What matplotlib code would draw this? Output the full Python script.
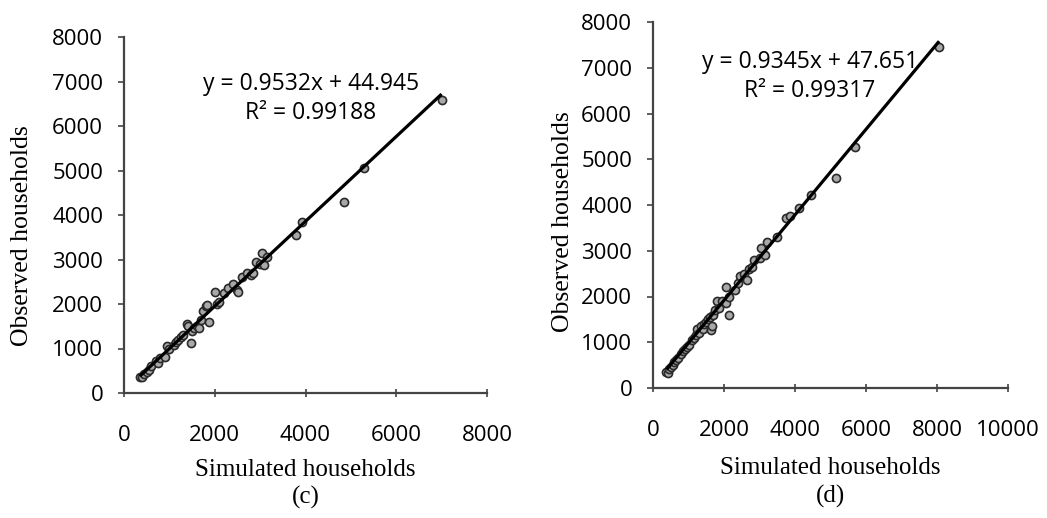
import matplotlib
matplotlib.use("Agg")
import matplotlib.pyplot as plt
import numpy as np

# ---------------- data ----------------
sim_c = [350, 390, 450, 500, 550, 600, 700, 750, 800, 900, 950, 1000,
         1100, 1150, 1200, 1250, 1300, 1380, 1400, 1470, 1500, 1550,
         1600, 1650, 1700, 1750, 1800, 1840, 1880, 2000, 2050, 2100,
         2200, 2300, 2400, 2480, 2520, 2600, 2700, 2800, 2850, 2900,
         3000, 3050, 3080, 3150, 3800, 3930, 4840, 5290, 7000]
obs_c = [360, 366, 420, 470, 520, 600, 720, 680, 780, 800, 1050, 980,
         1080, 1150, 1200, 1250, 1300, 1555, 1500, 1130, 1400, 1450,
         1500, 1450, 1650, 1850, 1950, 1980, 1600, 2260, 2000, 2050,
         2250, 2350, 2450, 2310, 2280, 2600, 2700, 2650, 2700, 2950,
         2900, 3150, 2870, 3050, 3550, 3850, 4300, 5050, 6580]

sim_d = [380, 430, 450, 500, 550, 600, 650, 700, 800, 850, 900, 950,
         1000, 1100, 1150, 1200, 1250, 1300, 1350, 1400, 1450, 1500,
         1550, 1600, 1625, 1650, 1700, 1750, 1800, 1850, 1950, 2050,
         2050, 2150, 2150, 2300, 2400, 2450, 2550, 2650, 2700, 2800,
         2850, 3000, 3050, 3150, 3200, 3500, 3750, 3850, 4100, 4450,
         5150, 5680, 8060]
obs_d = [350, 335, 420, 460, 500, 560, 620, 650, 750, 800, 850, 900,
         950, 1050, 1100, 1150, 1300, 1200, 1350, 1300, 1400, 1450,
         1500, 1550, 1270, 1350, 1600, 1700, 1900, 1750, 1900, 2215,
         1850, 1596, 2000, 2150, 2300, 2450, 2500, 2350, 2600, 2650,
         2800, 2850, 3050, 2900, 3200, 3300, 3710, 3750, 3930, 4220,
         4590, 5270, 7460]

fit_c = (0.9532, 44.945, 0.99188)
fit_d = (0.9345, 47.651, 0.99317)

xticks_c = [0, 2000, 4000, 6000, 8000]
xticks_d = [0, 2000, 4000, 6000, 8000, 10000]
yticks = [0, 1000, 2000, 3000, 4000, 5000, 6000, 7000, 8000]

xlabel = "Simulated households"
ylabel = "Observed households"

# ---------------- figure ----------------
W, H = 1047, 518
fig = plt.figure(figsize=(W / 100, H / 100), dpi=100)
fig.patch.set_facecolor("white")

tick_font = "Open Sans"
serif_font = "Liberation Serif"

def px_box(x0, y0, x1, y1):
    return [x0 / W, 1 - y1 / H, (x1 - x0) / W, (y1 - y0) / H]

panels = [
    dict(box=px_box(124, 37, 487, 393), sim=sim_c, obs=obs_c, fit=fit_c,
         xt=xticks_c, xlim=(0, 8000), tag="(c)",
         eq_xy=(311, 84), r2_xy=(311, 113),
         ylab_x=22, ylab_y=236, xlab_y=470, tag_y=497),
    dict(box=px_box(653, 22, 1008, 388), sim=sim_d, obs=obs_d, fit=fit_d,
         xt=xticks_d, xlim=(0, 10000), tag="(d)",
         eq_xy=(810, 62), r2_xy=(810, 91),
         ylab_x=563, ylab_y=222, xlab_y=468, tag_y=496),
]

for p in panels:
    ax = fig.add_axes(p["box"])
    ax.set_xlim(*p["xlim"])
    ax.set_ylim(0, 8000)
    ax.set_xticks(p["xt"])
    ax.set_yticks(yticks)
    for s in ["top", "right"]:
        ax.spines[s].set_visible(False)
    for s in ["left", "bottom"]:
        ax.spines[s].set_color("#444444")
        ax.spines[s].set_linewidth(1.6)
    ax.tick_params(axis="x", direction="inout", length=6, width=1.2,
                   color="#444444", pad=20, labelsize=16)
    ax.tick_params(axis="y", direction="out", length=4, width=1.2,
                   color="#444444", pad=11, labelsize=16)
    for lab in ax.get_xticklabels() + ax.get_yticklabels():
        lab.set_fontfamily(tick_font)

    sim = np.array(p["sim"], dtype=float)
    obs = np.array(p["obs"], dtype=float)
    ax.scatter(sim, obs, s=34, facecolor="#a8a8a8", edgecolor="#2a2a2a",
               linewidth=1.2, zorder=3, clip_on=False)
    a, b, r2 = p["fit"]
    xs = np.array([sim.min(), sim.max()])
    ax.plot(xs, a * xs + b, color="black", lw=2.3, zorder=4,
            solid_capstyle="butt")

    fig.text(p["eq_xy"][0] / W, 1 - p["eq_xy"][1] / H,
             f"y = {a:.4f}x + {b:.3f}", ha="center", va="center",
             fontsize=16.5, family=tick_font)
    fig.text(p["r2_xy"][0] / W, 1 - p["r2_xy"][1] / H,
             f"R² = {r2:.5f}", ha="center", va="center",
             fontsize=16.5, family=tick_font)

    cx = (p["box"][0] + p["box"][2] / 2)
    fig.text(cx, 1 - p["xlab_y"] / H, xlabel, ha="center", va="center",
             fontsize=18, family=serif_font)
    fig.text(cx, 1 - p["tag_y"] / H, p["tag"], ha="center", va="center",
             fontsize=18, family=serif_font)
    fig.text(p["ylab_x"] / W, 1 - p["ylab_y"] / H, ylabel, ha="center",
             va="center", rotation=90, fontsize=18.5, family=serif_font)

fig.savefig("out.png", dpi=100, facecolor="white")
